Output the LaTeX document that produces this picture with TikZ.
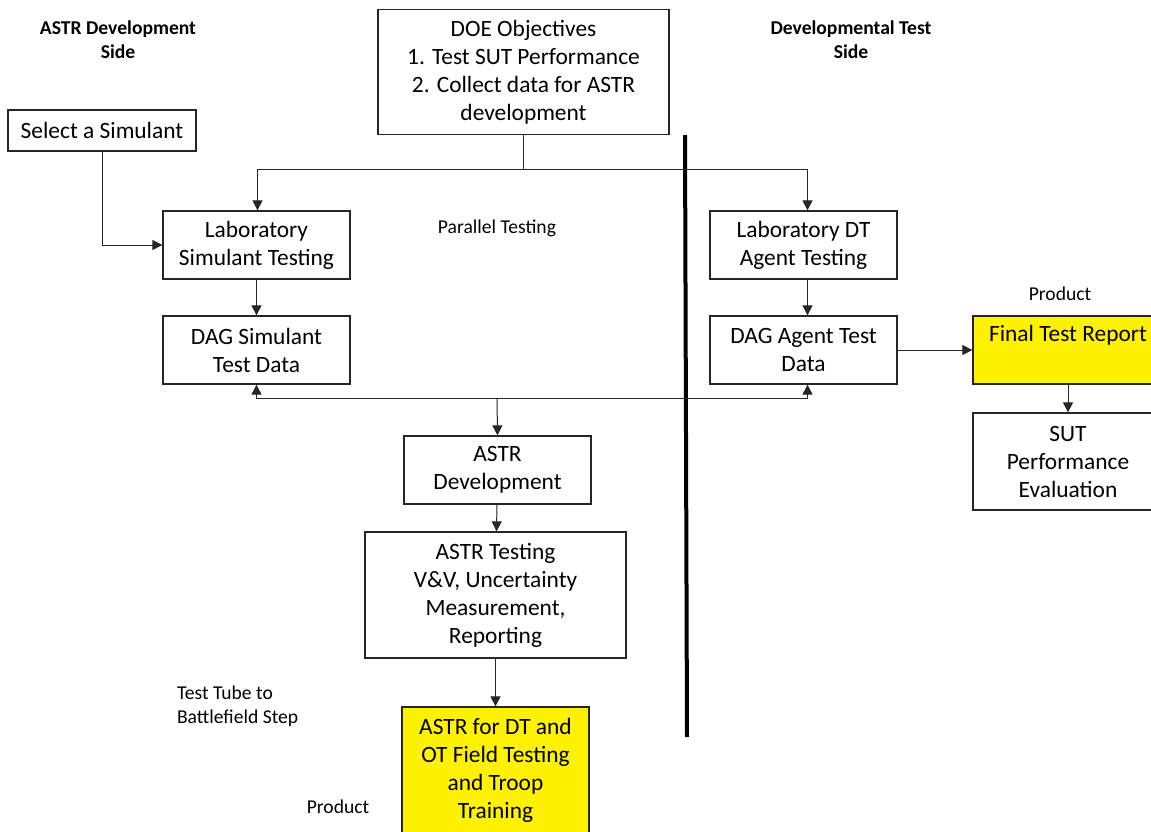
\documentclass[tikz,border=0pt]{standalone}
\usepackage{fontspec}
\setmainfont{Carlito}
\usetikzlibrary{arrows.meta}

\begin{document}
\begin{tikzpicture}[
    x=0.5pt, y=-0.5pt,
    box/.style={rectangle, draw=black!85, line width=0.65pt, align=center, inner sep=2pt,
        font=\fontsize{11.7}{14}\selectfont, minimum width=93.5pt, minimum height=34pt},
    label/.style={align=center, font=\fontsize{9.8}{12}\selectfont},
    arrow/.style={-{Triangle[length=5pt,width=5pt]}, line width=0.5pt, black!85}
]
    \clip (0,0) rectangle (1151,831);

    % Kopfzeilen
    \node[label, font=\fontsize{9.8}{12}\selectfont\bfseries] (hdrastr) at (118,40) {ASTR Development\\Side};
    \node[label, font=\fontsize{9.8}{12}\selectfont\bfseries] (hdrdt) at (851,40) {Developmental Test\\Side};

    % Ziele oben
    \node[box, minimum width=145.5pt, minimum height=62.5pt] (doe) at (523.5,72) {DOE Objectives\\1. Test SUT Performance\\2. Collect data for ASTR\\development};
    \node[box, minimum width=94pt, minimum height=20.5pt] (simulant) at (102,130.5) {Select a Simulant};

    % ASTR Seite
    \node[box] (labsim) at (256.5,245) {Laboratory\\Simulant Testing};
    \node[box] (dagsim) at (256.5,350) {DAG Simulant\\Test Data};
    \node[box] (astrdev) at (497.5,470) {ASTR\\Development};
    \node[box, minimum width=130.5pt, minimum height=63pt] (astrtest) at (495.5,595) {ASTR Testing\\V\&V, Uncertainty\\Measurement,\\Reporting};
    \node[box, fill=yellow, minimum height=63pt] (astrfield) at (495.5,770) {ASTR for DT and\\OT Field Testing\\and Troop\\Training};

    % DT Seite
    \node[box] (labdt) at (803.5,245) {Laboratory DT\\Agent Testing};
    \node[box] (dagdt) at (803.5,350) {DAG Agent Test\\Data};
    \node[box, fill=yellow, minimum width=95pt] (report) at (1068,350) {\raisebox{-2pt}{Final Test Report}\\\strut};
    \node[box, minimum width=95pt, minimum height=48.5pt] (sut) at (1068,461.5) {SUT\\Performance\\Evaluation};

    % Beschriftungen
    \node[label] (parallel) at (497,228) {Parallel Testing};
    \node[label] (productdt) at (1060,294) {Product};
    \node[label] (productastr) at (338,807) {Product};
    \node[label, align=left, anchor=west] (testtube) at (170,706) {Test Tube to\\Battlefield Step};

    % Trennlinie
    \draw[line width=2pt] (685,135) -- (687,737);

    % Pfeile
    \coordinate (split) at (523.5,169);
    \coordinate (join) at (497,398);
    \draw[line width=0.5pt, black!85] (doe.south) -- (split);
    \draw[arrow] (split) -| ([xshift=0.5pt]labsim.north);
    \draw[arrow] (split) -| ([xshift=2pt]labdt.north);
    \draw[arrow] (simulant.south) |- (labsim.west);
    \draw[arrow] (labsim) -- (dagsim);
    \draw[arrow] ([xshift=2pt]labdt.south) -- ([xshift=2pt]dagdt.north);
    \draw[arrow] (join) -| (dagsim.south);
    \draw[arrow] (join) -| ([xshift=2pt]dagdt.south);
    \draw[arrow] (join) -- (astrdev.north);
    \draw[arrow] (astrdev) -- (astrtest);
    \draw[arrow] (astrtest) -- (astrfield);
    \draw[arrow] (dagdt) -- (report.west |- dagdt);
    \draw[arrow] (report.south) -- (sut.north);
\end{tikzpicture}
\end{document}
